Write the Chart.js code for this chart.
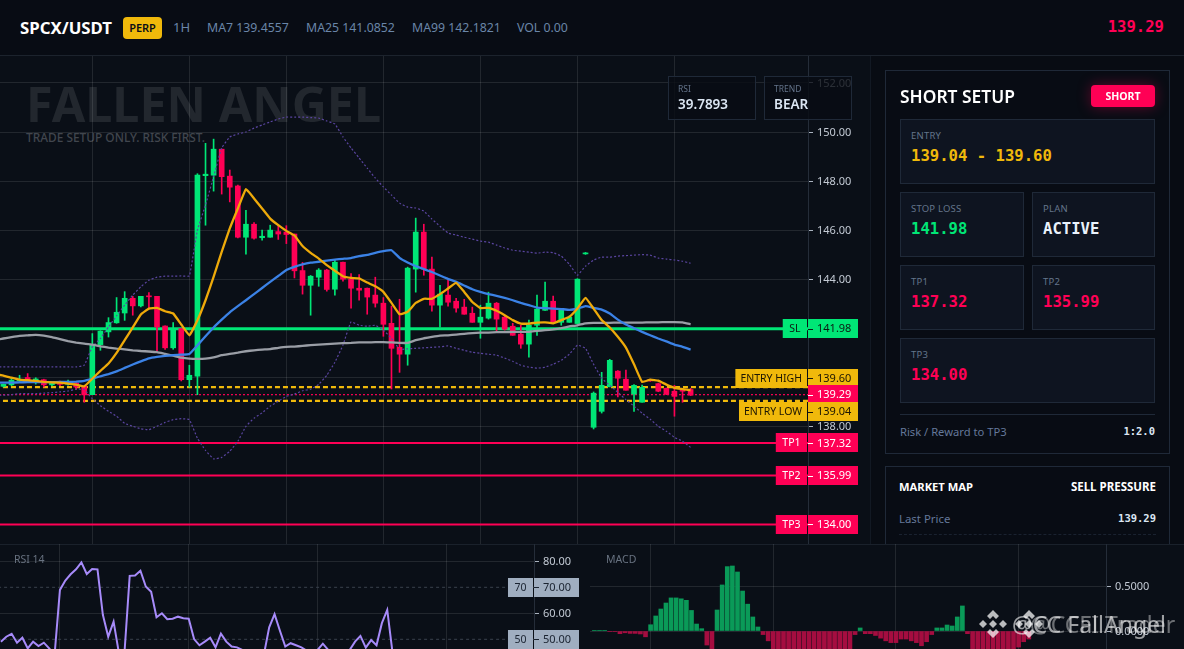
<!DOCTYPE html>
<html>
<head>
<meta charset="utf-8">
<title>SPCX/USDT</title>
<script src="https://cdn.jsdelivr.net/npm/chart.js@4/dist/chart.umd.min.js"></script>
<style>
  * { box-sizing: border-box; }
  html, body { margin: 0; width: 1184px; height: 649px; overflow: hidden; background: #0a0f17; font-family: "Noto Sans", sans-serif; }
  .abs { position: absolute; white-space: nowrap; }
  canvas { position: absolute; display: block; }
  #header { position: absolute; left: 0; top: 0; width: 1184px; height: 56px; background: #080c14; border-bottom: 1px solid #1c232d; }
  #sidebar { position: absolute; left: 870px; top: 56px; width: 314px; height: 488px; background: #080c13; border-left: 1px solid #121923; }
  #bottom { position: absolute; left: 0; top: 544px; width: 1184px; height: 105px; background: #0a0f17; border-top: 1px solid #1a212b; }
  .card { position: absolute; background: #080c14; border: 1px solid #1f2938; }
  .tile { position: absolute; background: #0e1420; border: 1px solid #1f2938; }
  .tile .lab { position: absolute; left: 10px; top: 9px; font-size: 9.5px; color: #64748b; letter-spacing: .2px; }
  .tile .val { position: absolute; left: 10px; top: 27px; font: bold 15.6px "DejaVu Sans Mono", monospace; }
  .mono { font-family: "DejaVu Sans Mono", monospace; font-weight: bold; }
  .hstat { position: absolute; top: 19px; font-size: 12.3px; color: #6a86a8; white-space: nowrap; }
  .box { position: absolute; top: 76px; height: 44px; background: rgba(8,12,20,.82); border: 1px solid #1f2938; }
  .box .lab { position: absolute; left: 9px; top: 6px; font-size: 8.5px; color: #64748b; }
  .box .val { position: absolute; left: 9px; top: 18px; font-size: 13.5px; font-weight: 600; color: #dbe6f3; }
  .wm { position: absolute; color: rgba(255,255,255,.6); font-size: 23px; white-space: nowrap; z-index: 5; }
</style>
</head>
<body>
<div id="header">
  <div class="abs" style="left:20px;top:16px;font-size:16.8px;font-weight:700;color:#fff">SPCX/USDT</div>
  <div class="abs" style="left:123px;top:17px;width:39px;height:22px;background:#f0b90b;border-radius:4px;color:#0b0f17;font-size:11px;font-weight:600;text-align:center;line-height:22px">PERP</div>
  <div class="hstat" style="left:173px;font-size:13px;top:18px">1H</div>
  <div class="hstat" style="left:207px">MA7 139.4557</div>
  <div class="hstat" style="left:306px">MA25 141.0852</div>
  <div class="hstat" style="left:412px">MA99 142.1821</div>
  <div class="hstat" style="left:517px">VOL 0.00</div>
  <div class="abs mono" style="right:20px;top:18px;font-size:15.6px;color:#ff0055">139.29</div>
</div>

<div class="abs" style="left:26px;top:73px;font-size:48.5px;font-weight:700;color:#22272e;line-height:60px">FALLEN ANGEL</div>
<div class="abs" style="left:26px;top:129px;font-size:11.9px;font-weight:500;color:#41464e">TRADE SETUP ONLY. RISK FIRST.</div>

<canvas id="mainChart" width="860" height="488" style="left:0;top:56px"></canvas>

<div class="box" style="left:668px;width:88px"><div class="lab">RSI</div><div class="val">39.7893</div></div>
<div class="box" style="left:764px;width:88px"><div class="lab">TREND</div><div class="val">BEAR</div></div>

<div id="sidebar">
  <div class="card" style="left:14px;top:14px;width:285px;height:384px">
    <div class="abs" style="left:14px;top:13px;font-size:17.4px;font-weight:600;color:#fff">SHORT SETUP</div>
    <div class="abs" style="left:205px;top:14px;width:64px;height:22px;background:#ff0055;border-radius:4px;color:#fff;font-size:10.5px;font-weight:700;text-align:center;line-height:22px;box-shadow:0 0 14px rgba(255,0,85,.35)">SHORT</div>
    <div class="tile" style="left:14px;top:48px;width:255px;height:65px"><div class="lab">ENTRY</div><div class="val" style="color:#f0b90b">139.04 - 139.60</div></div>
    <div class="tile" style="left:14px;top:121px;width:124px;height:65px"><div class="lab">STOP LOSS</div><div class="val" style="color:#00e676">141.98</div></div>
    <div class="tile" style="left:146px;top:121px;width:123px;height:65px"><div class="lab">PLAN</div><div class="val" style="color:#eaf2fb">ACTIVE</div></div>
    <div class="tile" style="left:14px;top:194px;width:124px;height:65px"><div class="lab">TP1</div><div class="val" style="color:#ff0055">137.32</div></div>
    <div class="tile" style="left:146px;top:194px;width:123px;height:65px"><div class="lab">TP2</div><div class="val" style="color:#ff0055">135.99</div></div>
    <div class="tile" style="left:14px;top:267px;width:255px;height:65px"><div class="lab">TP3</div><div class="val" style="color:#ff0055">134.00</div></div>
    <div class="abs" style="left:14px;top:343px;width:255px;height:1px;background:#1f2938"></div>
    <div class="abs" style="left:14px;top:353px;font-size:11.2px;color:#64789a">Risk / Reward to TP3</div>
    <div class="abs mono" style="right:14px;top:354px;font-size:10.5px;color:#dbe6f3">1:2.0</div>
  </div>
  <div class="card" style="left:14px;top:410px;width:285px;height:90px">
    <div class="abs" style="left:13px;top:12px;font-size:11.2px;font-weight:700;color:#fff">MARKET MAP</div>
    <div class="abs" style="right:13px;top:12px;font-size:11.5px;font-weight:700;color:#fff">SELL PRESSURE</div>
    <div class="abs" style="left:13px;top:44px;font-size:11.4px;color:#64789a">Last Price</div>
    <div class="abs mono" style="right:13px;top:45px;font-size:10.5px;color:#dbe6f3">139.29</div>
    <div class="abs" style="left:13px;top:67px;width:257px;height:0;border-top:1px dashed #1a2230"></div>
  </div>
</div>

<div id="bottom"></div>
<canvas id="rsiChart" width="590" height="105" style="left:0;top:544px"></canvas>
<canvas id="macdChart" width="594" height="105" style="left:590px;top:544px"></canvas>
<div class="abs" style="left:14px;top:552px;font-size:10.5px;color:#687280">RSI 14</div>
<div class="abs" style="left:606px;top:552px;font-size:10.5px;color:#687280">MACD</div>

<svg class="abs" style="left:978px;top:608px;z-index:5" width="72" height="32" viewBox="0 0 72 32" fill="rgba(255,255,255,.72)">
  <g id="bn"><polygon points="15,2 21,8 18,11 15,8 12,11 9,8"/><polygon points="15,30 21,24 18,21 15,24 12,21 9,24"/><polygon points="15,12 19,16 15,20 11,16"/><polygon points="5,12 9,16 5,20 1,16"/><polygon points="25,12 29,16 25,20 21,16"/></g>
  <use href="#bn" x="36"/>
</svg>
<div class="wm" style="left:1012px;top:608px">@CC FallAngel</div>
<div class="wm" style="left:1030px;top:608px;color:rgba(255,255,255,.4)">@CCFI Trader</div>

<script>
// candles, index 0 is the oldest
const opens = [139.63,139.69,139.85,139.99,139.85,139.90,139.69,139.82,139.71,139.77,139.63,
  139.29,141.33,141.85,142.22,142.62,143.22,142.91,143.32,143.30,142.09,
  141.20,141.98,139.90,140.04,148.22,148.24,149.30,148.20,147.80,145.71,
  146.24,145.69,145.71,145.94,145.92,145.84,144.35,143.75,144.08,144.37,
  143.59,144.69,144.00,143.63,143.63,143.35,143.02,142.20,141.22,140.94,
  144.41,145.92,144.41,142.94,143.35,143.10,142.86,142.61,142.24,142.41,
  143.02,142.45,142.08,141.76,141.35,142.12,142.73,143.10,142.24,142.24,
  142.19,145.03,137.96,138.61,139.61,140.25,139.92,139.31,138.98,139.90,
  139.74,139.55,139.43,139.50,139.50];
const closes = [139.71,139.88,139.90,139.88,139.93,139.69,139.82,139.71,139.82,139.60,139.28,
  141.33,141.88,142.23,142.65,143.22,142.91,143.30,143.28,142.05,141.20,
  141.98,139.90,140.08,148.24,148.28,149.30,148.18,147.75,145.71,146.24,
  145.67,145.75,146.00,145.84,145.82,144.34,143.75,144.12,144.37,143.58,
  144.69,144.00,143.63,143.55,143.27,143.02,142.16,141.18,140.94,144.45,
  145.92,144.41,142.94,143.39,143.06,142.82,142.57,142.24,142.45,143.02,
  142.37,141.96,141.71,141.35,142.12,142.78,143.10,142.24,142.73,142.45,
  144.00,145.07,139.35,139.67,140.69,139.96,139.47,139.67,139.59,139.85,
  139.43,139.31,139.22,139.43,139.27];
const highs = [139.72,139.95,140.08,140.15,139.98,139.92,139.82,139.84,139.88,139.78,139.65,
  141.78,141.90,142.43,143.25,143.49,143.30,143.30,143.45,143.30,142.10,
  142.23,142.00,140.49,148.30,149.54,149.71,149.30,148.45,147.84,146.81,
  146.31,146.00,146.20,146.20,146.18,145.84,144.68,144.15,144.43,144.40,
  144.78,144.70,144.23,144.19,143.64,144.08,143.25,142.90,143.18,144.49,
  146.49,146.24,144.90,143.75,143.96,143.22,143.18,142.86,142.94,143.47,
  143.05,142.53,142.20,142.12,142.33,143.35,143.88,143.31,142.75,142.50,
  144.02,145.09,139.40,140.20,140.73,140.27,140.29,139.70,139.68,139.92,
  139.76,139.56,139.67,139.52,139.55];
const lows = [139.60,139.65,139.80,139.85,139.72,139.60,139.65,139.66,139.68,139.50,138.98,
  139.29,141.10,141.64,142.20,142.32,142.53,142.87,142.84,141.06,141.13,
  141.14,139.85,139.60,139.29,146.20,147.59,147.47,147.15,145.68,145.02,
  145.63,145.59,145.71,145.62,145.45,144.05,143.39,142.53,143.71,143.51,
  143.35,143.92,142.82,143.14,142.57,142.86,141.67,139.52,140.20,140.49,
  143.47,144.16,142.69,142.04,142.90,142.65,142.57,142.24,141.59,142.37,
  141.88,141.92,141.71,141.18,140.82,141.71,142.73,142.19,142.12,142.24,
  142.16,145.01,137.89,138.54,139.61,139.20,139.47,138.61,138.98,139.83,
  139.41,139.29,138.41,138.98,139.25];

const ma7 = [140.07,139.98,139.90,139.88,139.85,139.81,139.79,139.78,139.74,139.70,139.63,
  139.94,140.26,140.56,140.99,141.51,142.03,142.56,142.80,142.83,142.69,
  142.60,142.15,141.71,142.32,143.14,144.09,145.11,146.07,146.88,147.67,
  147.29,146.88,146.47,146.20,145.97,145.78,145.35,145.07,144.84,144.57,
  144.34,144.12,144.05,144.03,143.86,143.71,143.48,143.03,142.57,142.67,
  143.03,143.20,143.20,143.39,143.62,143.85,143.48,143.07,142.82,142.83,
  142.71,142.53,142.33,142.19,142.19,142.23,142.24,142.20,142.33,142.46,
  142.80,143.24,142.80,142.33,142.03,141.65,141.21,140.53,139.81,139.90,
  139.86,139.70,139.57,139.52,139.47];
const ma25 = [139.78,139.78,139.79,139.80,139.80,139.80,139.80,139.81,139.81,139.82,139.85,
  139.94,140.04,140.13,140.24,140.38,140.52,140.65,140.77,140.83,140.87,
  140.90,140.92,140.95,141.30,141.67,142.03,142.35,142.65,142.90,143.14,
  143.39,143.64,143.89,144.13,144.37,144.50,144.60,144.67,144.71,144.76,
  144.80,144.83,144.86,144.94,144.99,145.07,145.14,145.18,144.87,144.68,
  144.53,144.41,144.29,144.15,144.01,143.89,143.74,143.59,143.48,143.39,
  143.32,143.24,143.14,143.03,142.94,142.84,142.82,142.80,142.78,142.75,
  142.80,142.90,142.83,142.76,142.60,142.35,142.15,142.00,141.85,141.71,
  141.58,141.46,141.33,141.24,141.13];
const ma99 = [141.58,141.64,141.69,141.71,141.73,141.70,141.64,141.55,141.47,141.41,141.37,
  141.33,141.26,141.21,141.17,141.14,141.10,141.07,141.05,141.02,140.95,
  140.88,140.80,140.76,140.75,140.76,140.81,140.90,140.95,141.00,141.06,
  141.10,141.13,141.15,141.20,141.24,141.25,141.28,141.31,141.33,141.35,
  141.37,141.39,141.40,141.42,141.42,141.43,141.43,141.42,141.40,141.40,
  141.51,141.59,141.65,141.70,141.71,141.74,141.77,141.80,141.82,141.82,
  141.84,141.84,141.85,141.85,141.85,141.89,141.92,141.95,142.00,142.07,
  142.12,142.20,142.22,142.22,142.22,142.23,142.23,142.23,142.23,142.24,
  142.24,142.25,142.25,142.24,142.16];
const bollUpper = [140.42,140.42,140.42,140.42,140.42,140.42,140.42,140.42,140.42,140.42,140.49,
  141.24,141.58,142.05,142.50,142.94,143.35,143.69,143.96,144.08,144.12,
  144.12,144.13,144.13,146.00,147.02,148.18,149.35,149.80,149.92,150.00,
  150.16,150.29,150.41,150.53,150.61,150.61,150.61,150.59,150.57,150.45,
  150.33,149.80,149.35,148.94,148.53,148.12,147.76,147.43,147.10,146.94,
  146.90,146.78,146.45,146.16,145.88,145.80,145.71,145.63,145.55,145.51,
  145.39,145.27,145.18,145.14,145.10,145.06,145.10,145.08,144.94,144.61,
  144.16,144.53,144.78,144.90,144.90,144.94,144.96,144.98,145.00,144.98,
  144.86,144.82,144.78,144.73,144.65];
const bollLower = [139.27,139.29,139.33,139.33,139.33,139.35,139.37,139.40,139.44,139.51,139.50,
  139.12,138.84,138.61,138.41,138.12,138.00,137.90,137.86,138.00,138.16,
  138.27,138.31,138.27,137.51,137.02,136.67,136.73,136.98,137.39,138.00,
  138.33,138.55,138.82,139.02,139.22,139.31,139.45,139.51,139.71,140.08,
  140.61,141.31,142.26,142.12,142.08,142.12,141.92,141.59,141.14,141.16,
  141.18,141.20,141.22,141.24,141.28,141.18,141.10,141.02,140.98,140.94,
  140.90,140.78,140.65,140.49,140.41,140.37,140.41,140.53,140.69,140.94,
  141.31,141.18,140.53,139.96,139.67,139.39,139.08,138.82,138.53,138.29,
  138.00,137.80,137.55,137.39,137.14];
// values where each line leaves the left edge, one bar before the first candle
const edgeMa7 = 140.12, edgeMa25 = 139.78, edgeMa99 = 141.52, edgeUpper = 140.42, edgeLower = 139.26;

const rsiValues = [49.1,51.0,52.1,48.7,50.6,46.5,49.1,47.4,48.7,46.5,44.0,
  69.0,72.6,75.0,76.9,79.6,75.1,77.0,76.9,59.4,51.0,
  56.8,44.6,44.0,74.4,74.5,76.4,70.3,68.3,58.5,60.0,
  57.7,57.9,58.7,58.1,57.9,50.1,47.7,49.1,50.6,46.9,
  52.2,49.1,47.2,46.9,45.9,44.5,43.5,43.0,44.0,54.6,
  59.7,53.3,47.2,48.5,47.7,46.9,45.6,44.5,45.9,48.3,
  45.9,44.0,43.5,44.0,45.9,49.1,51.3,46.8,49.7,47.7,
  56.2,61.3,44.6,43.0,42.0,44.0,43.0,42.0,41.0,40.5,
  40.2,40.0,39.9,39.8,39.79];
const macdValues = [0.007,0.007,0.007,-0.004,-0.004,-0.03,-0.02,-0.027,-0.027,-0.033,-0.065,
  0.07,0.168,0.246,0.313,0.37,0.37,0.36,0.343,0.23,0.078,
  0.026,-0.157,-0.3,0.235,0.515,0.72,0.727,0.66,0.447,0.3,
  0.157,0.045,-0.04,-0.11,-0.22,-0.26,-0.3,-0.33,-0.35,-0.36,
  -0.36,-0.35,-0.33,-0.32,-0.3,-0.29,-0.27,-0.26,-0.24,-0.22,
  -0.04,0.034,-0.03,-0.03,-0.05,-0.08,-0.11,-0.13,-0.13,-0.09,
  -0.09,-0.11,-0.13,-0.165,-0.12,-0.04,0.034,0.034,0.067,0.056,
  0.157,0.28,-0.03,-0.22,-0.25,-0.27,-0.28,-0.27,-0.26,-0.25,
  -0.23,-0.2,-0.18,-0.12,-0.09];

const priceTicks = [134,136,138,140,142,144,146,148,150,152];
const rsiTicks = [80,70,60,50];
const macdTicks = [0.5,0];
const mainGridBars = [11,23,35,47,59,71,83];
const subGridBars = [11,35,59,83];

const levelNames = ['SL','ENTRY HIGH','','ENTRY LOW','TP1','TP2','TP3'];
const levelPrices = [141.98,139.60,139.29,139.04,137.32,135.99,134.00];
const rsiLevels = [70,50];

const green = '#00e676', red = '#ff0055', yellow = '#f0b90b', slate = '#a0aec0';
const gridColor = 'rgba(255,255,255,.1)';
const axisFont = {family: '"Noto Sans", sans-serif', size: 11};

const xy = arr => arr.map((v, i) => ({x: i, y: v}));
const flat = v => [{x: -5, y: v}, {x: 110, y: v}];

function lineSet(data, edge, color, width, order, dash) {
  return {type: 'line', data: [{x: -1, y: edge}, ...xy(data)], borderColor: color, borderWidth: width, pointRadius: 0,
    tension: 0.1, order: order, borderDash: dash || [], borderJoinStyle: 'round'};
}
function levelSet(price, color, width, dash) {
  return {type: 'line', data: flat(price), borderColor: color, borderWidth: width, pointRadius: 0,
    order: 30, borderDash: dash || []};
}

// boxes on the price axis, the tag list stays out of the options proxy
function axisTags(boxWidth, tags) {
  return {
    id: 'axisTags',
    afterDraw(chart) {
      const ctx = chart.ctx, yScale = chart.scales.y, right = chart.chartArea.right;
      ctx.save();
      ctx.textBaseline = 'middle';
      tags.forEach(t => {
        const y = yScale.getPixelForValue(t.value) + t.nudge;
        const top = Math.round(y - 9.5);
        ctx.fillStyle = t.bg;
        ctx.fillRect(right, top, boxWidth, 19);
        if (t.name) {
          ctx.font = '10.5px "Noto Sans", sans-serif';
          const w = ctx.measureText(t.name).width + (t.name.length < 4 ? 13 : 10);
          ctx.fillRect(right - 1 - w, top, w, 19);
          ctx.fillStyle = t.fg;
          ctx.textAlign = 'center';
          ctx.fillText(t.name, right - 1 - w / 2, y + 0.5);
        }
        ctx.font = '11px "Noto Sans", sans-serif';
        ctx.fillStyle = t.fg;
        ctx.textAlign = 'left';
        ctx.fillText(t.value.toFixed(2), right + 9, y + 0.5);
        ctx.fillRect(right, Math.round(y), 5, 1);
      });
      ctx.restore();
    }
  };
}

function xAxis(min, max, bars) {
  return {type: 'linear', min: min, max: max, offset: false,
    afterBuildTicks: s => { s.ticks = bars.map(v => ({value: v})); },
    ticks: {display: false}, border: {display: false},
    grid: {color: gridColor, drawTicks: false, offset: false}};
}
function yAxis(min, max, values, width, digits, color) {
  return {position: 'right', min: min, max: max,
    afterBuildTicks: s => { s.ticks = values.map(v => ({value: v})); },
    afterFit: s => { s.width = width; s.paddingTop = 0; s.paddingBottom = 0; },
    ticks: {color: '#c3cad4', font: axisFont, padding: 4, labelOffset: 1, autoSkip: false, callback: v => v.toFixed(digits)},
    border: {color: '#252d39'},
    grid: {color: color || gridColor, tickColor: '#aab3bf', tickLength: 5}};
}
const baseOptions = {responsive: false, animation: false, events: [], devicePixelRatio: 1,
  layout: {padding: 0}};

const tagStyle = [
  {bg: green, fg: '#0b1a12', nudge: 0}, {bg: yellow, fg: '#1c1603', nudge: -9}, {bg: red, fg: '#fff', nudge: 0},
  {bg: yellow, fg: '#1c1603', nudge: 11}, {bg: red, fg: '#fff', nudge: 0}, {bg: red, fg: '#fff', nudge: 0}, {bg: red, fg: '#fff', nudge: 0}
];
const bandColor = '#5a45a0';

new Chart(document.getElementById('mainChart'), {
  type: 'bar',
  plugins: [axisTags(50, levelPrices.map((v, i) => ({value: v, name: levelNames[i], ...tagStyle[i]})))],
  data: {datasets: [
    lineSet(ma99, edgeMa99, '#9a9ea6', 2.3, 3),
    lineSet(ma25, edgeMa25, '#3b82e6', 2.3, 2),
    lineSet(ma7, edgeMa7, '#eeaa0a', 2.3, 1),
    lineSet(bollUpper, edgeUpper, bandColor, 1.2, 4, [2, 2]),
    lineSet(bollLower, edgeLower, bandColor, 1.2, 4, [2, 2]),
    {type: 'bar', grouped: false, order: 10, barThickness: 5,
      data: opens.map((o, i) => ({x: i, y: [o, closes[i]]})),
      backgroundColor: opens.map((o, i) => closes[i] >= o ? green : red)},
    {type: 'bar', grouped: false, order: 11, barThickness: 1,
      data: lows.map((l, i) => ({x: i, y: [l, highs[i]]})),
      backgroundColor: opens.map((o, i) => closes[i] >= o ? green : red)},
    levelSet(levelPrices[0], green, 3),
    levelSet(levelPrices[1], yellow, 2.2, [5, 3]),
    levelSet(levelPrices[2], red, 1.2, [2, 2]),
    levelSet(levelPrices[3], yellow, 2.2, [5, 3]),
    levelSet(levelPrices[4], red, 2),
    levelSet(levelPrices[5], red, 2),
    levelSet(levelPrices[6], red, 2)
  ]},
  options: {...baseOptions,
    scales: {x: xAxis(-0.42, 99.52, mainGridBars), y: yAxis(133.2, 153.1, priceTicks, 52, 2)},
    plugins: {legend: {display: false}, tooltip: {enabled: false}}
  }
});

new Chart(document.getElementById('rsiChart'), {
  type: 'line',
  plugins: [axisTags(45, rsiLevels.map(v => ({value: v, name: String(v), bg: slate, fg: '#1a2330', nudge: 0})))],
  data: {datasets: [
    {data: xy(rsiValues), borderColor: '#a78bfa', borderWidth: 2, pointRadius: 0, tension: 0, order: 1},
    ...rsiLevels.map(v => ({data: flat(v), borderColor: '#3a414d', borderWidth: 1, borderDash: [3, 3], pointRadius: 0, order: 2}))
  ]},
  options: {...baseOptions,
    scales: {x: xAxis(-0.17, 99.35, subGridBars),
      y: yAxis(46.27, 86.65, rsiTicks, 56, 2, c => rsiLevels.includes(c.tick && c.tick.value) ? 'transparent' : gridColor)},
    plugins: {legend: {display: false}, tooltip: {enabled: false}}
  }
});

new Chart(document.getElementById('macdChart'), {
  type: 'bar',
  data: {datasets: [{
    data: xy(macdValues), barThickness: 4,
    backgroundColor: macdValues.map(v => v >= 0 ? '#0a9a58' : '#a50d40')
  }]},
  options: {...baseOptions,
    scales: {x: xAxis(-0.86, 100.1, subGridBars), y: yAxis(-0.2013, 0.973, macdTicks, 78, 4)},
    plugins: {legend: {display: false}, tooltip: {enabled: false}}
  }
});
</script>
</body>
</html>
